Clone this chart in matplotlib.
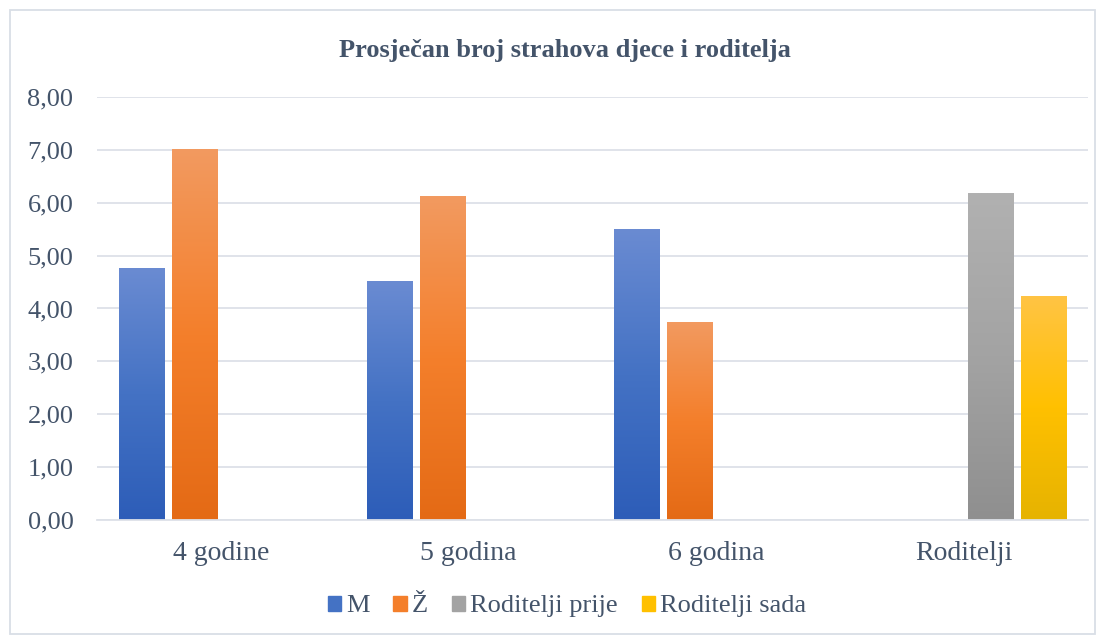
import matplotlib.pyplot as plt
import numpy as np
from matplotlib.colors import LinearSegmentedColormap
from matplotlib.patches import Rectangle

categories = ['4 godine', '5 godina', '6 godina', 'Roditelji']
series_names = ['M', 'Ž', 'Roditelji prije', 'Roditelji sada']
m_vals = [4.76, 4.52, 5.50, np.nan]
z_vals = [7.01, 6.12, 3.75, np.nan]
prije_vals = [np.nan, np.nan, np.nan, 6.18]
sada_vals = [np.nan, np.nan, np.nan, 4.23]
yticks = [0, 1, 2, 3, 4, 5, 6, 7, 8]

# top / middle / bottom colours of the excel style gradient
grads = [
    ['#6A8BD2', '#4472C4', '#2D5DB8'],
    ['#F29A60', '#F47F2B', '#E46A15'],
    ['#B1B1B1', '#A3A3A3', '#8F8F8F'],
    ['#FFC444', '#FFC000', '#E6B300'],
]

txt = '#44546A'
plt.rcParams['font.family'] = ['Liberation Serif', 'DejaVu Serif']

fig = plt.figure(figsize=(11.05, 6.37), dpi=100)
ax = fig.add_axes([0.0878, 0.1837, 0.8968, 0.664])

all_vals = [m_vals, z_vals, prije_vals, sada_vals]
n = len(all_vals)
x = np.arange(len(categories))
w = 0.182
step = 0.2135
grad = np.linspace(0, 1, 256).reshape(-1, 1)

handles = []
for k, vals in enumerate(all_vals):
    cmap = LinearSegmentedColormap.from_list('g%d' % k, grads[k][::-1])
    pos = x + (k - (n - 1) / 2) * step
    bars = ax.bar(pos, np.nan_to_num(vals), w, color='none', zorder=2)
    for b, v in zip(bars, vals):
        if np.isnan(v):
            continue
        x0 = b.get_x()
        im = ax.imshow(grad, cmap=cmap, aspect='auto', origin='lower',
                       extent=[x0, x0 + w, 0, v], zorder=2)
        im.set_clip_path(b)
    handles.append(Rectangle((0, 0), 1, 1, color=grads[k][1]))

ax.set_xlim(-0.5, len(categories) - 0.5)
ax.set_ylim(0, 8)
ax.set_yticks(yticks)
ax.set_yticklabels(['%d,00' % t for t in yticks], fontsize=19, color=txt)
ax.set_xticks(x)
ax.set_xticklabels(categories, fontsize=20, color=txt)
ax.tick_params(axis='y', length=0, pad=17)
ax.tick_params(axis='x', length=0, pad=15)
ax.grid(axis='y', color='#DDE1E8', lw=1.3, zorder=0)
for s in ['top', 'right', 'left']:
    ax.spines[s].set_visible(False)
ax.spines['bottom'].set_color('#DDE1E8')
ax.spines['bottom'].set_linewidth(1.3)
ax.set_axisbelow(True)

fig.text(0.511, 0.92, 'Prosječan broj strahova djece i roditelja', ha='center',
         va='center', fontsize=19, fontweight='bold', color=txt)

leg = fig.legend(handles, series_names, loc='center', bbox_to_anchor=(0.513, 0.048),
                 ncol=4, frameon=False, fontsize=19, handlelength=0.5,
                 handleheight=0.5, handletextpad=0.2, columnspacing=0.9)
for t in leg.get_texts():
    t.set_color(txt)

fig.patches.append(Rectangle((0.009, 0.004), 0.982, 0.98, transform=fig.transFigure,
                             fill=False, edgecolor='#D9DEE6', lw=1.3))

fig.savefig('out.png', dpi=100)
